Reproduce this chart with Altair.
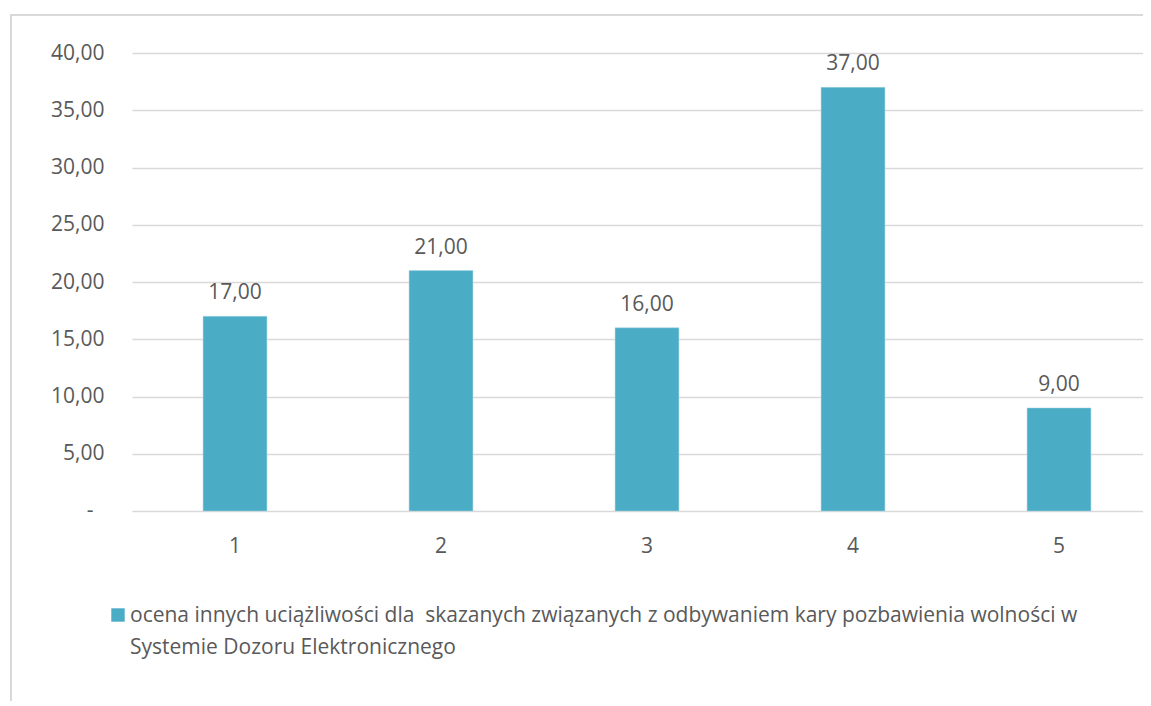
import altair as alt
import pandas as pd

categories = ["1", "2", "3", "4", "5"]
values = [17.0, 21.0, 16.0, 37.0, 9.0]
y_ticks = [0, 5, 10, 15, 20, 25, 30, 35, 40]
series_name = "ocena innych uciążliwości dla \u00a0skazanych związanych z odbywaniem kary pozbawienia wolności w\nSystemie Dozoru Elektronicznego"

df = pd.DataFrame({"cat": categories, "val": values})
zero_df = pd.DataFrame({"v": [0.0], "t": ["-"]})

FONT = "Open Sans"
FS = 21
TXT = "#595959"
GRID = "#d9d9d9"
BAR = "#4bacc6"

x_enc = alt.X("cat:N", sort=categories,
              scale=alt.Scale(range=[0, 1030], paddingInner=0.69, paddingOuter=0.345),
              axis=alt.Axis(title=None, labelAngle=0, domain=False, ticks=False,
                            labelPadding=24, labelFontSize=FS, labelColor=TXT, labelFont=FONT, grid=False))
y_enc = alt.Y("val:Q", scale=alt.Scale(domain=[0, 40], nice=False),
              axis=alt.Axis(title=None, values=y_ticks, domain=False, ticks=False,
                            labelPadding=28, labelFontSize=FS, labelColor=TXT, labelFont=FONT,
                            grid=True, gridColor=GRID, gridWidth=1.5,
                            labelExpr="datum.value == 0 ? '' : replace(format(datum.value, '.2f'), '.', ',')"))

border_top = alt.Chart(df).mark_rule(stroke=GRID, strokeWidth=2, clip=False).encode(
    x=alt.value(-122), x2=alt.value(1011), y=alt.value(-38))
border_left = alt.Chart(df).mark_rule(stroke=GRID, strokeWidth=2, clip=False).encode(
    x=alt.value(-121), y=alt.value(-39), y2=alt.value(700))

bars = alt.Chart(df).mark_bar(color=BAR, stroke="#a9d5e2", strokeWidth=0.5).encode(x=x_enc, y=y_enc)

labels = alt.Chart(df).transform_calculate(
    lbl="replace(format(datum.val, '.2f'), '.', ',')"
).mark_text(font=FONT, fontSize=FS, color=TXT, baseline="alphabetic", dy=-17).encode(
    x=alt.X("cat:N", sort=categories), y="val:Q", text="lbl:N")

zero_lbl = alt.Chart(zero_df).mark_text(
    font=FONT, fontSize=FS, color=TXT, align="center", baseline="middle", clip=False).encode(
    x=alt.value(-42), y=alt.Y("v:Q"), text="t:N")

legend_sym = alt.Chart(pd.DataFrame({"s": [series_name]})).mark_square(
    color=BAR, size=180, opacity=1, clip=False).encode(x=alt.value(-14), y=alt.value(562))

legend_txt = alt.Chart(pd.DataFrame({"s": [series_name]})).mark_text(
    font=FONT, fontSize=FS, color=TXT, align="left", baseline="alphabetic",
    lineBreak="\n", lineHeight=32, clip=False).encode(
    x=alt.value(-2), y=alt.value(569), text="s:N")

chart = alt.layer(border_top, border_left, bars, labels, zero_lbl, legend_sym, legend_txt).properties(
    width=1011, height=458,
    background="white",
    autosize=alt.AutoSizeParams(type="none"),
    padding={"left": 124, "top": 45, "right": 0, "bottom": 190},
).configure_view(strokeWidth=0, stroke="transparent")

chart.save("out.html", embed_options={"renderer": "svg", "actions": False})
